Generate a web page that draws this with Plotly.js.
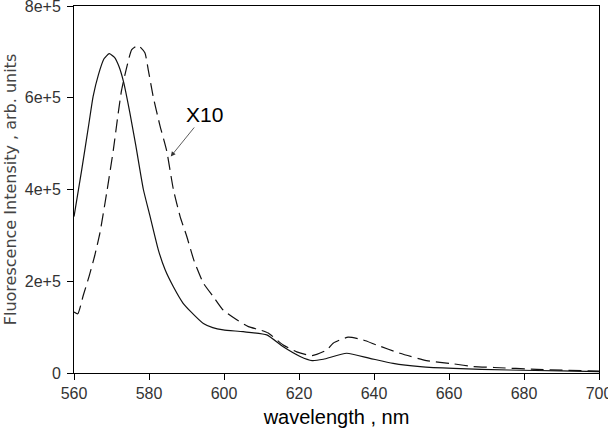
<!DOCTYPE html>
<html>
<head>
<meta charset="utf-8">
<script src="https://cdn.plot.ly/plotly-3.0.1.min.js"></script>
<style>
  html, body { margin: 0; padding: 0; background: #fff; }
  #chart { width: 608px; height: 437px; }
</style>
</head>
<body>
<div id="chart"></div>
<script>
// solid curve
const solidWl = [560, 562, 564, 565.1, 566.5, 568, 569.4, 570.8, 572, 573.2, 574.9, 576.5,
  578.5, 580.3, 582.5, 584.3, 586.5, 589.1, 591, 594.5, 597, 599.8, 605.1, 611.4, 615.8,
  620.3, 623.5, 626.5, 632.7, 638.9, 645.1, 652.3, 661.2, 676, 690, 700];
const solidVal = [341000, 440000, 545000, 603000, 650000, 685000, 696000, 688000, 668000,
  635000, 567000, 495000, 400000, 341000, 268000, 225000, 188000, 152000, 135000, 108000,
  99000, 94000, 90000, 83000, 57000, 36000, 27000, 30000, 43000, 32000, 21000, 14000, 10000,
  6500, 4500, 3000];

// dashed curve (X10)
const dashWl = [560, 561, 562.5, 564, 565.5, 566.9, 568.7, 570.5, 571.8, 572.7, 574.1, 575.4,
  577.1, 578.9, 579.8, 581.1, 582.9, 584.7, 586.5, 588.3, 590.1, 592, 594.5, 597.2, 599.8,
  603.4, 606.5, 609.6, 611.8, 615.8, 619.4, 623.5, 627.4, 629.1, 633.1, 637.1, 640.7, 646.9,
  654, 661.2, 666.5, 672, 683.4, 700];
const dashVal = [133000, 129000, 170000, 210000, 255000, 305000, 392000, 487000, 567000, 617000,
  668000, 705000, 714000, 698000, 661000, 603000, 540000, 485000, 400000, 341000, 297000,
  245000, 196000, 166000, 137000, 116000, 101000, 94000, 87000, 61000, 46000, 38000, 50000,
  65000, 78000, 72000, 61000, 43000, 27000, 20000, 14000, 12000, 8000, 4000];

const xTicks = [560, 580, 600, 620, 640, 660, 680, 700];
const yTicks = [0, 200000, 400000, 600000, 800000];
const yTickText = ["0", "2e+5", "4e+5", "6e+5", "8e+5"];

const traces = [
  {
    x: solidWl, y: solidVal, mode: "lines", type: "scatter",
    line: { color: "#111", width: 1.2, shape: "spline", smoothing: 0.5 },
  },
  {
    x: dashWl, y: dashVal, mode: "lines", type: "scatter",
    line: { color: "#111", width: 1.2, dash: "13px,6px", shape: "spline", smoothing: 0.5 },
  },
];

const axisCommon = {
  showgrid: false,
  zeroline: false,
  showline: true,
  linecolor: "#000",
  linewidth: 1,
  mirror: true,
  ticks: "outside",
  ticklen: 6,
  tickcolor: "#000",
  automargin: false,
  ticklabeloverflow: "allow",
  tickfont: { family: "Liberation Sans, Arial, sans-serif", size: 16, color: "#333" },
};

const layout = {
  width: 608,
  height: 437,
  showlegend: false,
  paper_bgcolor: "#fff",
  plot_bgcolor: "#fff",
  margin: { l: 74, r: 9, t: 6, b: 64 },
  xaxis: Object.assign({}, axisCommon, {
    range: [560, 700],
    tickvals: xTicks,
    title: { text: "wavelength , nm", font: { family: "Liberation Sans, Arial, sans-serif", size: 20, color: "#000" }, standoff: 8 },
  }),
  yaxis: Object.assign({}, axisCommon, {
    range: [0, 800000],
    tickvals: yTicks,
    ticktext: yTickText,
    ticklabelstandoff: 3,
    title: { text: "Fluorescence Intensity , arb. units", font: { family: "DejaVu Sans, sans-serif", size: 16, color: "#444" }, standoff: 4 },
  }),
  annotations: [
    {
      x: 585.8, y: 472000, xref: "x", yref: "y",
      text: "X10",
      font: { family: "Liberation Sans, Arial, sans-serif", size: 21, color: "#000" },
      showarrow: true,
      arrowhead: 2, arrowsize: 1.2, arrowwidth: 0.8, arrowcolor: "#333",
      ax: 34, ay: -42,
    },
  ],
};

Plotly.newPlot("chart", traces, layout, { staticPlot: true });
</script>
</body>
</html>
